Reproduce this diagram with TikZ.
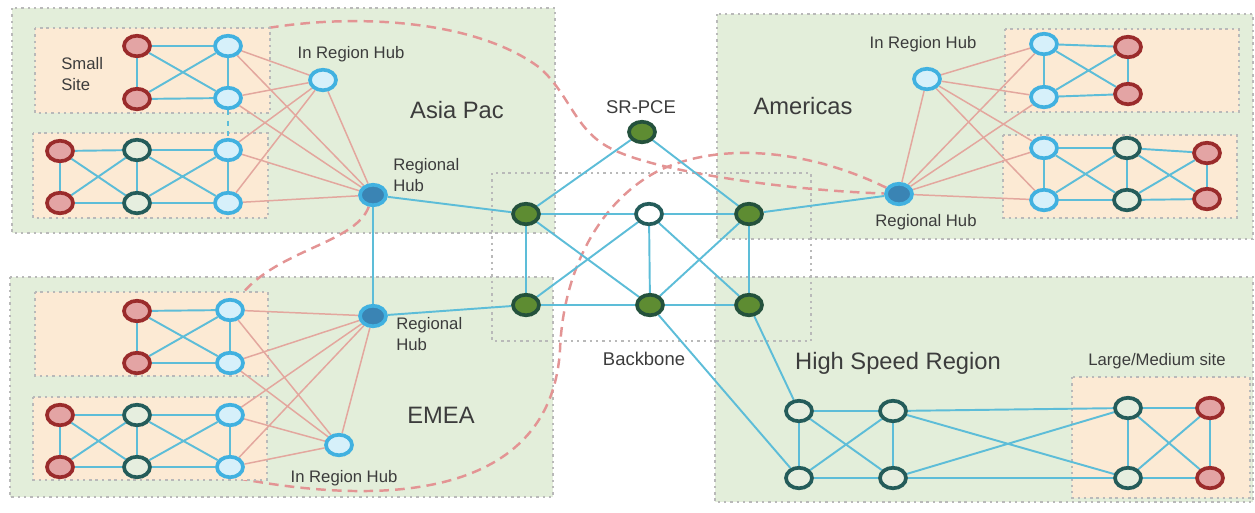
\documentclass[tikz,border=0pt]{standalone}
\usepackage{fontspec}
\setmainfont{Liberation Sans}
\usetikzlibrary{shapes.geometric,positioning}
\usepackage{xcolor}

\definecolor{regiongreen}{HTML}{E3EEDA}
\definecolor{sitepeach}{HTML}{FCEAD4}
\definecolor{boxgray}{HTML}{B9B9B9}
\definecolor{redfill}{HTML}{E3A4A4}
\definecolor{redline}{HTML}{9A2B2B}
\definecolor{bluefill}{HTML}{D6F0FA}
\definecolor{blueline}{HTML}{41B1E0}
\definecolor{corefill}{HTML}{E6EEDF}
\definecolor{tealline}{HTML}{245C5A}
\definecolor{greenfill}{HTML}{5E8C32}
\definecolor{greenline}{HTML}{24513C}
\definecolor{hubfill}{HTML}{3A84B4}
\definecolor{cyanlink}{HTML}{5DBDD8}
\definecolor{pinklink}{HTML}{E3A79E}
\definecolor{dashpink}{HTML}{E39494}
\definecolor{labelgray}{HTML}{3C3C3C}

\pgfdeclarelayer{regions}
\pgfdeclarelayer{dashes}
\pgfdeclarelayer{sites}
\pgfdeclarelayer{links}
\pgfsetlayers{regions,dashes,sites,links,main}

\begin{document}
\begin{tikzpicture}[x=0.02cm, y=-0.02cm]
    \tikzstyle{dev} = [ellipse, line width=2.1pt, minimum width=0.52cm,
               minimum height=0.41cm, inner sep=0pt]
    \tikzstyle{leaf} = [dev, draw=redline, fill=redfill]
    \tikzstyle{access} = [dev, draw=blueline, fill=bluefill]
    \tikzstyle{core} = [dev, draw=tealline, fill=corefill]
    \tikzstyle{bbnode} = [dev, draw=greenline, fill=greenfill]
    \tikzstyle{hub} = [dev, draw=blueline, fill=hubfill]
    \tikzstyle{boxdots} = [draw=boxgray, line width=1.4pt, dash pattern=on 1.4pt off 2.2pt]
    \tikzstyle{region} = [boxdots, fill=regiongreen]
    \tikzstyle{site} = [boxdots, fill=sitepeach]
    \tikzstyle{link} = [draw=cyanlink, line width=1.1pt]
    \tikzstyle{uplink} = [draw=pinklink, line width=0.85pt]
    \tikzstyle{srpath} = [draw=dashpink, line width=1.4pt, dash pattern=on 5.5pt off 3.5pt]
    \tikzstyle{lbl} = [text=labelgray, font=\fontsize{9.5}{11.5}\selectfont, inner sep=0pt]
    \tikzstyle{bigname} = [text=labelgray, font=\fontsize{13.5}{16}\selectfont, inner sep=0pt]
    \tikzstyle{midname} = [text=labelgray, font=\fontsize{10.5}{12}\selectfont, inner sep=0pt]

    \useasboundingbox (0,0) rectangle (1255,512);

    % Asia Pac
    \node[leaf]   (apR1) at (137,46)  {};
    \node[leaf]   (apR2) at (137,99)  {};
    \node[access] (apB1) at (228,46)  {};
    \node[access] (apB2) at (228,98)  {};
    \node[leaf]   (apR3) at (60,151)  {};
    \node[leaf]   (apR4) at (60,203)  {};
    \node[core]   (apT1) at (137,150) {};
    \node[core]   (apT2) at (137,203) {};
    \node[access] (apB3) at (228,150) {};
    \node[access] (apB4) at (228,203) {};
    \node[access] (apIRH) at (323,80) {};
    \node[hub]    (apHub) at (373,195) {};

    % EMEA
    \node[leaf]   (emR1) at (137,311) {};
    \node[leaf]   (emR2) at (137,363) {};
    \node[access] (emB1) at (230,310) {};
    \node[access] (emB2) at (230,363) {};
    \node[leaf]   (emR3) at (60,415)  {};
    \node[leaf]   (emR4) at (60,467)  {};
    \node[core]   (emT1) at (137,415) {};
    \node[core]   (emT2) at (137,467) {};
    \node[access] (emB3) at (230,415) {};
    \node[access] (emB4) at (230,467) {};
    \node[access] (emIRH) at (339,445) {};
    \node[hub]    (emHub) at (373,316) {};

    % Backbone
    \node[bbnode] (pce) at (642,132) {};
    \node[bbnode] (bb1) at (526,214) {};
    \node[core, fill=white] (bb2) at (649,214) {};
    \node[bbnode] (bb3) at (749,214) {};
    \node[bbnode] (bb4) at (526,305) {};
    \node[bbnode] (bb5) at (650,305) {};
    \node[bbnode] (bb6) at (749,305) {};

    % Americas
    \node[access] (amIRH) at (927,79) {};
    \node[hub]    (amHub) at (899,194) {};
    \node[access] (amB1) at (1044,44)  {};
    \node[access] (amB2) at (1044,97)  {};
    \node[leaf]   (amR1) at (1128,47)  {};
    \node[leaf]   (amR2) at (1128,94)  {};
    \node[access] (amB3) at (1044,148) {};
    \node[access] (amB4) at (1044,200) {};
    \node[core]   (amT1) at (1127,148) {};
    \node[core]   (amT2) at (1127,200) {};
    \node[leaf]   (amR3) at (1207,153) {};
    \node[leaf]   (amR4) at (1207,199) {};

    % High Speed Region
    \node[core] (hs1) at (799,411) {};
    \node[core] (hs2) at (893,411) {};
    \node[core] (hs3) at (799,478) {};
    \node[core] (hs4) at (893,478) {};
    \node[core] (lg1) at (1128,408) {};
    \node[leaf] (lgR1) at (1210,408) {};
    \node[core] (lg2) at (1128,478) {};
    \node[leaf] (lgR2) at (1210,478) {};

    % Labels
    \node[lbl, anchor=west, align=left] (smallLbl) at (61,74) {Small\\Site};
    \node[lbl] (apIRHLbl) at (351,54) {In Region Hub};
    \node[lbl, anchor=west, align=left] (apHubLbl) at (393,175) {Regional\\Hub};
    \node[bigname] (apName) at (457,110) {Asia Pac};
    \node[lbl, anchor=west, align=left] (emHubLbl) at (396,334) {Regional\\Hub};
    \node[lbl] (emIRHLbl) at (344,478) {In Region Hub};
    \node[bigname] (emName) at (441,415) {EMEA};
    \node[midname] (pceLbl) at (641,107) {SR-PCE};
    \node[midname] (bbLbl) at (644,359) {Backbone};
    \node[bigname] (amName) at (803,106) {Americas};
    \node[lbl] (amIRHLbl) at (923,44) {In Region Hub};
    \node[lbl] (amHubLbl) at (926,222) {Regional Hub};
    \node[bigname] (hsName) at (898,363) {High Speed Region};
    \node[lbl] (lgLbl) at (1157,361) {Large/Medium site};

    % Region boxes
    \begin{pgfonlayer}{regions}
      \path[region] (12,8) rectangle (555,233);
      \path[region] (10,277) rectangle (553,497);
      \path[region] (717,14) rectangle (1253,239);
      \path[region] (715,277) rectangle (1253,502);
      \draw[boxdots] (492,173) rectangle (811,341);
    \end{pgfonlayer}

    % SR paths
    \begin{pgfonlayer}{dashes}
      \coordinate (apTop) at (238,34);
      \coordinate (emTop) at (236,302);
      \coordinate (emBot) at (226,476);
      \draw[srpath] (apTop) .. controls (330,12) and (470,15) .. (540,68)
          .. controls (570,95) and (575,130) .. (610,148)
          .. controls (650,170) and (780,190) .. (amHub);
      \draw[srpath] (amHub) .. controls (820,155) and (730,138) .. (660,170)
          .. controls (600,200) and (563,270) .. (560,350)
          .. controls (552,480) and (420,515) .. (emBot);
      \draw[srpath] (apHub) .. controls (355,245) and (270,250) .. (emTop);
    \end{pgfonlayer}

    % Site boxes
    \begin{pgfonlayer}{sites}
      \path[site] (35,28) rectangle (270,113);
      \path[site] (33,133) rectangle (268,218);
      \path[site] (35,292) rectangle (268,376);
      \path[site] (33,397) rectangle (267,480);
      \path[site] (1005,29) rectangle (1239,112);
      \path[site] (1003,135) rectangle (1237,218);
      \path[site] (1072,377) rectangle (1250,498);
    \end{pgfonlayer}

    % Links
    \begin{pgfonlayer}{links}
      % uplinks to hubs
      \draw[uplink] (apB1) -- (apIRH) (apB2) -- (apIRH) (apB3) -- (apIRH) (apB4) -- (apIRH)
          (apB1) -- (apHub) (apB2) -- (apHub) (apB3) -- (apHub) (apB4) -- (apHub)
          (apIRH) -- (apHub);
      \draw[uplink] (emB1) -- (emIRH) (emB2) -- (emIRH) (emB3) -- (emIRH) (emB4) -- (emIRH)
          (emB1) -- (emHub) (emB2) -- (emHub) (emB3) -- (emHub) (emB4) -- (emHub)
          (emIRH) -- (emHub);
      \draw[uplink] (amB1) -- (amIRH) (amB2) -- (amIRH) (amB3) -- (amIRH) (amB4) -- (amIRH)
          (amB1) -- (amHub) (amB2) -- (amHub) (amB3) -- (amHub) (amB4) -- (amHub)
          (amIRH) -- (amHub);

      % sites
      \draw[link] (apR1) -- (apB1) (apR1) -- (apR2) (apR2) -- (apB2) (apR1) -- (apB2)
          (apR2) -- (apB1) (apB1) -- (apB2);
      \draw[link, dashed] (apB2) -- (apB3);
      \draw[link] (apR3) -- (apT1) (apR3) -- (apR4) (apR4) -- (apT2) (apR3) -- (apT2)
          (apR4) -- (apT1) (apT1) -- (apT2) (apT1) -- (apB3) (apT2) -- (apB4)
          (apT1) -- (apB4) (apT2) -- (apB3) (apB3) -- (apB4);
      \draw[link] (emR1) -- (emB1) (emR1) -- (emR2) (emR2) -- (emB2) (emR1) -- (emB2)
          (emR2) -- (emB1) (emB1) -- (emB2);
      \draw[link] (emR3) -- (emT1) (emR3) -- (emR4) (emR4) -- (emT2) (emR3) -- (emT2)
          (emR4) -- (emT1) (emT1) -- (emT2) (emT1) -- (emB3) (emT2) -- (emB4)
          (emT1) -- (emB4) (emT2) -- (emB3) (emB3) -- (emB4);
      \draw[link] (amB1) -- (amR1) (amB1) -- (amB2) (amB1) -- (amR2) (amB2) -- (amR1)
          (amB2) -- (amR2) (amR1) -- (amR2);
      \draw[link] (amB3) -- (amT1) (amB3) -- (amB4) (amB3) -- (amT2) (amB4) -- (amT1)
          (amB4) -- (amT2) (amT1) -- (amT2) (amT1) -- (amR3) (amT1) -- (amR4)
          (amT2) -- (amR3) (amT2) -- (amR4) (amR3) -- (amR4);

      % backbone
      \draw[link] (apHub) -- (emHub) (apHub) -- (bb1) (emHub) -- (bb4) (amHub) -- (bb3)
          (pce) -- (bb1) (pce) -- (bb3) (bb1) -- (bb2) (bb2) -- (bb3)
          (bb1) -- (bb4) (bb1) -- (bb5) (bb2) -- (bb4) (bb2) -- (bb5) (bb2) -- (bb6)
          (bb3) -- (bb5) (bb3) -- (bb6) (bb4) -- (bb5) (bb5) -- (bb6)
          (bb5) -- (hs3) (bb6) -- (hs1);

      % high speed region
      \draw[link] (hs1) -- (hs2) (hs1) -- (hs3) (hs1) -- (hs4) (hs2) -- (hs3)
          (hs2) -- (hs4) (hs3) -- (hs4) (hs2) -- (lg1) (hs2) -- (lg2)
          (hs4) -- (lg1) (hs4) -- (lg2);
      \draw[link] (lg1) -- (lgR1) (lg1) -- (lg2) (lg1) -- (lgR2) (lgR1) -- (lg2)
          (lgR1) -- (lgR2) (lg2) -- (lgR2);
    \end{pgfonlayer}

\end{tikzpicture}
\end{document}
